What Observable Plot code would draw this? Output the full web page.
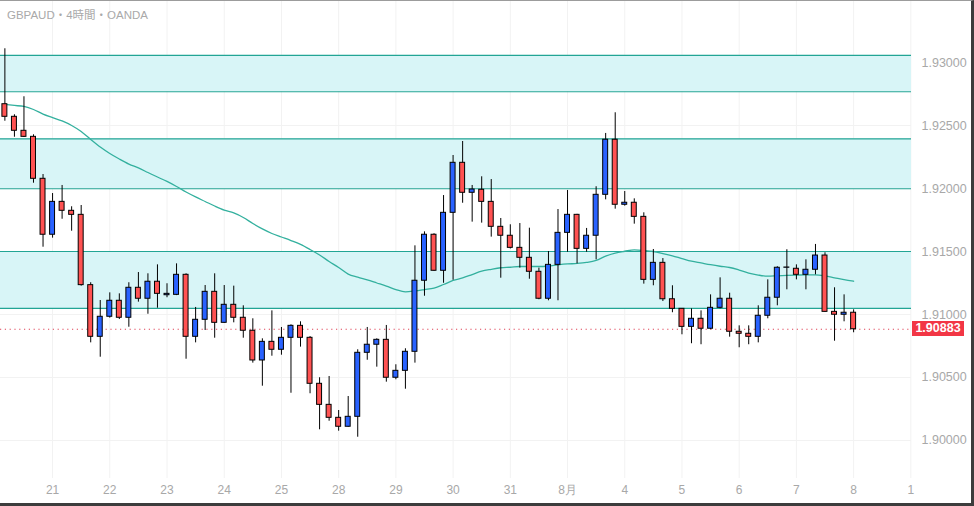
<!DOCTYPE html>
<html><head><meta charset="utf-8">
<script src="https://cdn.jsdelivr.net/npm/d3@7"></script>
<script src="https://cdn.jsdelivr.net/npm/@observablehq/plot@0.6"></script>
<style>
html,body{margin:0;padding:0;background:#fff;}
#wrap{position:relative;width:974px;height:506px;overflow:hidden;background:#fff;}
#wrap svg{position:absolute;left:0;top:0;}
#title{position:absolute;left:7px;top:8px;font:11.5px/14px "Liberation Sans","Noto Sans CJK JP",sans-serif;color:#a9a9a9;white-space:nowrap;}
#frame{position:absolute;left:0;top:0;width:974px;height:506px;border-top:1px solid #9c9c9c;border-right:3px solid #3c3c3c;border-bottom:3px solid #3c3c3c;box-sizing:border-box;pointer-events:none;}
#last{position:absolute;left:912px;width:52px;height:15px;background:#f23645;color:#fff;font:bold 12.5px/15px "Liberation Sans",Arial,sans-serif;text-align:center;}
</style></head>
<body><div id="wrap"></div>
<script>
const open = [1.92669,1.92569,1.92458,1.92410,1.92077,1.91633,1.91894,1.91823,1.91791,1.91233,
1.90823,1.90982,1.91109,1.90974,1.91212,1.91125,1.91260,1.91153,1.91156,1.91315,
1.90823,1.90958,1.91180,1.90934,1.91077,1.90974,1.90871,1.90635,1.90783,1.90720,
1.90815,1.90910,1.90815,1.90450,1.90283,1.90180,1.90109,1.90188,1.90696,1.90760,
1.90799,1.90498,1.90553,1.90704,1.91268,1.91633,1.91347,1.91807,1.92204,1.91966,
1.91990,1.91894,1.91696,1.91625,1.91529,1.91450,1.91339,1.91125,1.91394,1.91648,
1.91791,1.91521,1.91625,1.91950,1.92387,1.91871,1.91887,1.91775,1.91275,1.91410,
1.91121,1.91045,1.90902,1.90966,1.90887,1.91053,1.91125,1.90863,1.90847,1.90823,
1.90990,1.91133,1.91371,1.91363,1.91315,1.91355,1.91468,1.91021,1.90998,1.91014];
const high = [1.93109,1.92585,1.92728,1.92426,1.92111,1.91960,1.92024,1.91855,1.91865,1.91252,
1.91111,1.91172,1.91164,1.91252,1.91333,1.91323,1.91394,1.91244,1.91402,1.91323,
1.91056,1.91230,1.91323,1.91230,1.91225,1.91069,1.90966,1.90807,1.91029,1.90897,
1.90918,1.90942,1.90825,1.90498,1.90508,1.90238,1.90349,1.90720,1.90897,1.90807,
1.90913,1.90601,1.90728,1.91545,1.91656,1.91641,1.91944,1.92262,1.92373,1.92024,
1.92093,1.92071,1.91762,1.91712,1.91722,1.91685,1.91368,1.91500,1.91833,1.91984,
1.91795,1.91683,1.92014,1.92437,1.92601,1.91976,1.91918,1.91807,1.91516,1.91444,
1.91228,1.91046,1.91045,1.91029,1.91156,1.91291,1.91169,1.90910,1.90910,1.91069,
1.91275,1.91379,1.91514,1.91394,1.91434,1.91556,1.91490,1.91212,1.91156,1.91037];
const low = [1.92534,1.92407,1.92405,1.92042,1.91534,1.91606,1.91756,1.91661,1.91225,1.90775,
1.90661,1.90971,1.90960,1.90899,1.91098,1.91002,1.91050,1.91133,1.91150,1.90645,
1.90775,1.90873,1.90812,1.90930,1.90934,1.90812,1.90614,1.90431,1.90669,1.90677,
1.90375,1.90741,1.90371,1.90085,1.90153,1.90074,1.90105,1.90026,1.90637,1.90582,
1.90463,1.90482,1.90407,1.90614,1.91145,1.91343,1.91248,1.91272,1.91883,1.91733,
1.91725,1.91614,1.91288,1.91520,1.91368,1.91280,1.91117,1.91109,1.91109,1.91494,
1.91402,1.91494,1.91434,1.91910,1.91836,1.91860,1.91717,1.91241,1.91228,1.91103,
1.91014,1.90839,1.90768,1.90760,1.90879,1.91045,1.90820,1.90736,1.90760,1.90775,
1.90966,1.91069,1.91196,1.91275,1.91196,1.91315,1.91018,1.90788,1.90942,1.90855];
const close = [1.92569,1.92458,1.92410,1.92077,1.91633,1.91894,1.91823,1.91791,1.91233,1.90823,
1.90982,1.91109,1.90974,1.91212,1.91125,1.91260,1.91164,1.91164,1.91315,1.90823,
1.90958,1.91180,1.90934,1.91077,1.90974,1.90871,1.90635,1.90783,1.90720,1.90815,
1.90910,1.90815,1.90450,1.90283,1.90180,1.90109,1.90188,1.90696,1.90760,1.90799,
1.90498,1.90553,1.90704,1.91268,1.91633,1.91347,1.91807,1.92204,1.91966,1.91992,
1.91894,1.91696,1.91625,1.91529,1.91450,1.91339,1.91125,1.91394,1.91648,1.91791,
1.91521,1.91625,1.91950,1.92387,1.91871,1.91887,1.91775,1.91275,1.91410,1.91121,
1.91045,1.90902,1.90966,1.90887,1.91053,1.91125,1.90863,1.90847,1.90823,1.90990,
1.91133,1.91371,1.91373,1.91315,1.91355,1.91468,1.91021,1.90998,1.91014,1.90883];
const ma = [1.92667,1.92659,1.92651,1.92627,1.92591,1.92563,1.92536,1.92500,1.92452,1.92389,
1.92329,1.92278,1.92234,1.92194,1.92163,1.92127,1.92091,1.92056,1.92016,1.91972,
1.91933,1.91897,1.91861,1.91829,1.91806,1.91770,1.91722,1.91679,1.91643,1.91615,
1.91587,1.91556,1.91516,1.91472,1.91421,1.91373,1.91321,1.91296,1.91274,1.91250,
1.91226,1.91198,1.91180,1.91187,1.91198,1.91210,1.91238,1.91270,1.91290,1.91317,
1.91344,1.91359,1.91371,1.91375,1.91381,1.91381,1.91381,1.91385,1.91394,1.91401,
1.91405,1.91413,1.91429,1.91464,1.91488,1.91502,1.91513,1.91508,1.91500,1.91484,
1.91466,1.91444,1.91423,1.91409,1.91395,1.91383,1.91373,1.91353,1.91329,1.91313,
1.91304,1.91307,1.91310,1.91313,1.91315,1.91315,1.91306,1.91291,1.91276,1.91264];
const dayIdx = [5,11,17,23,29,35,41,47,53,59,65,71,77,83,89,95];
const dayLabel = ["21","22","23","24","25","28","29","30","31","8月","4","5","6","7","8","1"];
const yTicks = [1.90,1.905,1.91,1.915,1.92,1.925,1.93];
const zoneLo = [1.92768,1.91998,1.91048];
const zoneHi = [1.93056,1.92394,1.91500];
const titleText = "GBPAUD・4時間・OANDA";

const candles = open.map((o, i) => ({i, o, h: high[i], l: low[i], c: close[i], m: ma[i]}));
const zones = zoneLo.map((lo, k) => ({lo, hi: zoneHi[k]}));
const zoneLines = zoneLo.concat(zoneHi);
const last = close[close.length - 1];
const up = candles.filter(d => d.c >= d.o);
const down = candles.filter(d => d.c < d.o);

const chart = Plot.plot({
  width: 974, height: 506,
  marginLeft: 0, marginRight: 63, marginTop: 0, marginBottom: 28,
  style: {fontFamily: '"Liberation Sans", Arial, sans-serif', background: "transparent"},
  x: {domain: [-0.46, 95.07]},
  y: {domain: [1.896984, 1.934921]},
  marks: [
    Plot.ruleX(dayIdx, {stroke: "#f2f2f2"}),
    Plot.ruleY(yTicks, {stroke: "#f2f2f2"}),
    Plot.rect(zones, {y1: "lo", y2: "hi", fill: "#d8f5f7"}),
    Plot.ruleY(zoneLines, {stroke: "#22a595", strokeWidth: 1.2}),
    Plot.line(candles, {x: "i", y: "m", stroke: "#33b09e", strokeWidth: 1.3, curve: "monotone-x"}),
    Plot.ruleY([last], {stroke: "#e04458", strokeDasharray: "1.2,3.6", strokeWidth: 1.2}),
    Plot.ruleX(candles, {x: "i", y1: "l", y2: "h", stroke: "#000", strokeWidth: 1}),
    Plot.rect(up, {x1: d => d.i - 0.26, x2: d => d.i + 0.26, y1: "o", y2: "c", fill: "#2962ff", stroke: "#000", strokeWidth: 1}),
    Plot.rect(down, {x1: d => d.i - 0.26, x2: d => d.i + 0.26, y1: "o", y2: "c", fill: "#ff5252", stroke: "#000", strokeWidth: 1}),
    Plot.axisY(yTicks, {anchor: "right", tickSize: 0, tickPadding: 10, tickFormat: d => d.toFixed(5), fontSize: 12.5, color: "#a8a8a8", label: null}),
    Plot.axisX(dayIdx, {anchor: "bottom", tickSize: 0, tickPadding: 7, tickFormat: d => dayLabel[dayIdx.indexOf(d)], fontSize: 12, color: "#a8a8a8", label: null})
  ]
});
const wrap = document.getElementById("wrap");
wrap.appendChild(chart);
const t = document.createElement("div");
t.id = "title"; t.textContent = titleText; wrap.appendChild(t);
const lb = document.createElement("div");
lb.id = "last"; lb.textContent = last.toFixed(5);
lb.style.top = (chart.scale("y").apply(last) - 7.5) + "px";
wrap.appendChild(lb);
const fr = document.createElement("div"); fr.id = "frame"; wrap.appendChild(fr);
</script>
</body></html>
